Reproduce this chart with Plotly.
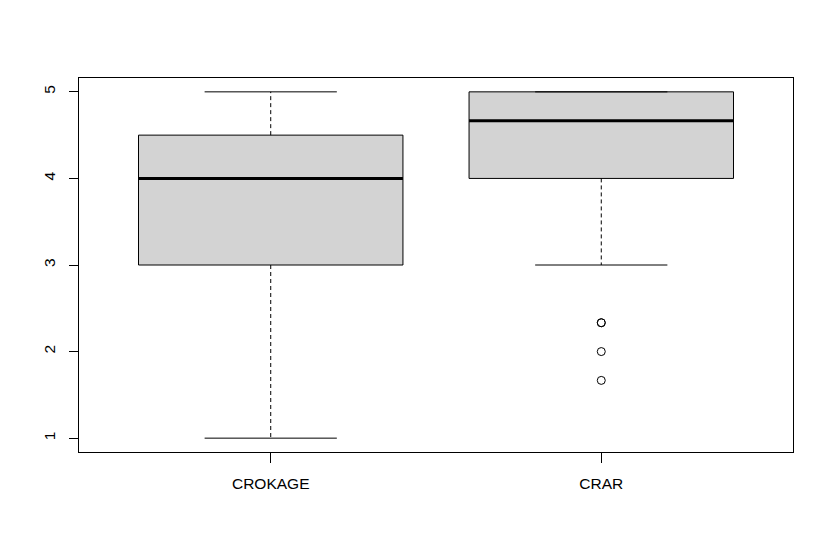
import plotly.graph_objs as go

## box statistics
tools = ['CROKAGE', 'CRAR']
lower = [1.0, 3.0]
q1 = [3.0, 4.0]
median = [4.0, 4.667]
q3 = [4.5, 5.0]
upper = [5.0, 5.0]
outlier_tool = ['CRAR', 'CRAR', 'CRAR', 'CRAR']
outlier_val = [2.333, 2.333, 2.0, 1.667]

BOX_HALF = 0.4
CAP_HALF = 0.2

fig = go.Figure()

for i, name in enumerate(tools):
    xc = i + 1
    # box body
    fig.add_trace(go.Scatter(
        x=[xc - BOX_HALF, xc + BOX_HALF, xc + BOX_HALF, xc - BOX_HALF, xc - BOX_HALF],
        y=[q1[i], q1[i], q3[i], q3[i], q1[i]],
        mode='lines', fill='toself', fillcolor='#d3d3d3',
        line=dict(color='black', width=1), hoverinfo='skip'))
    # dashed whiskers
    for a, b in [(q3[i], upper[i]), (q1[i], lower[i])]:
        if a != b:
            fig.add_trace(go.Scatter(x=[xc, xc], y=[a, b], mode='lines',
                                     line=dict(color='black', width=1, dash='4px,3px'),
                                     hoverinfo='skip'))
    # caps
    for v in [upper[i], lower[i]]:
        fig.add_trace(go.Scatter(x=[xc - CAP_HALF, xc + CAP_HALF], y=[v, v], mode='lines',
                                 line=dict(color='black', width=1), hoverinfo='skip'))
    # median
    fig.add_trace(go.Scatter(x=[xc - BOX_HALF, xc + BOX_HALF], y=[median[i], median[i]],
                             mode='lines', line=dict(color='black', width=3),
                             hoverinfo='skip'))

## outliers
fig.add_trace(go.Scatter(
    x=[tools.index(t) + 1 for t in outlier_tool], y=outlier_val, mode='markers',
    marker=dict(symbol='circle-open', size=8, color='black', line=dict(width=1))))

## page body has an 8px margin, so offsets are trimmed by that much
fig.update_layout(
    width=834, height=551,
    margin=dict(l=71, r=49, t=70, b=107),
    plot_bgcolor='white', paper_bgcolor='white',
    showlegend=False,
    font=dict(family='Liberation Sans, Arial, sans-serif', size=15.5, color='black'),
    xaxis=dict(range=[0.42, 2.58], tickvals=[1, 2], ticktext=tools,
               showgrid=False, zeroline=False, showline=True, mirror=True,
               linecolor='black', linewidth=1, ticks='outside', ticklen=10,
               tickcolor='black', ticklabelstandoff=7),
    yaxis=dict(range=[0.84, 5.16], tickvals=[1, 2, 3, 4, 5],
               showgrid=False, zeroline=False, showline=True, mirror=True,
               linecolor='black', linewidth=1, ticks='outside', ticklen=9,
               tickcolor='black', tickangle=-90, ticklabelstandoff=8),
)

fig.write_html('out.html')
